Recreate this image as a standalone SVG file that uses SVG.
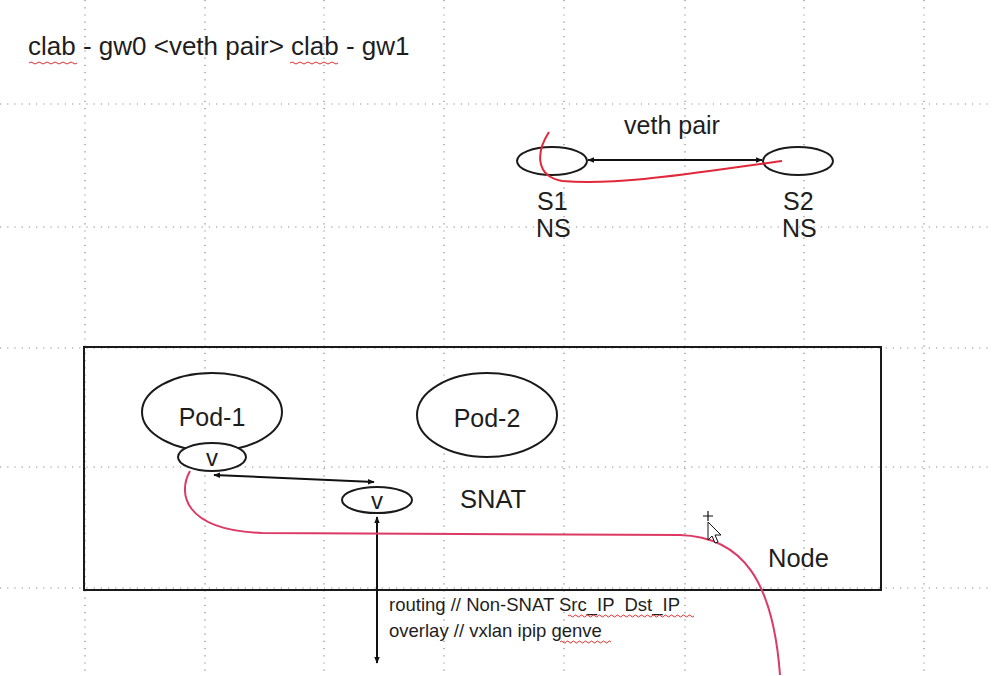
<svg xmlns="http://www.w3.org/2000/svg" width="992" height="676" viewBox="0 0 992 676">
<defs>
<style>
.grid{stroke:#8a8a8a;stroke-width:1.2;stroke-dasharray:1.2 6;fill:none}
.shape{fill:#fff;stroke:#1a1a1a;stroke-width:2}
.conn{stroke:#111;stroke-width:2;fill:none}
.red{stroke:#e0283a;stroke-width:2;fill:none}
.pink{stroke:#dc3a64;stroke-width:2;fill:none}
.t{font-family:"Liberation Sans",Arial,sans-serif;fill:#1e1e1e}
.wave{stroke:#e03030;stroke-width:1;fill:none}
</style>
<marker id="ah" viewBox="0 0 10 10" refX="9" refY="5" markerWidth="7" markerHeight="7" orient="auto-start-reverse" markerUnits="userSpaceOnUse">
<path d="M0,1 L10,5 L0,9 z" fill="#111"/>
</marker>
</defs>
<rect width="992" height="676" fill="#fff"/>
<g id="grid">
<line class="grid" x1="0" y1="104" x2="992" y2="104"/>
<line class="grid" x1="0" y1="227" x2="992" y2="227"/>
<line class="grid" x1="0" y1="348" x2="992" y2="348"/>
<line class="grid" x1="0" y1="467" x2="992" y2="467"/>
<line class="grid" x1="0" y1="588" x2="992" y2="588"/>
<line class="grid" x1="85" y1="0" x2="85" y2="676"/>
<line class="grid" x1="205" y1="0" x2="205" y2="676"/>
<line class="grid" x1="324" y1="0" x2="324" y2="676"/>
<line class="grid" x1="444" y1="0" x2="444" y2="676"/>
<line class="grid" x1="564" y1="0" x2="564" y2="676"/>
<line class="grid" x1="685" y1="0" x2="685" y2="676"/>
<line class="grid" x1="804" y1="0" x2="804" y2="676"/>
<line class="grid" x1="924" y1="0" x2="924" y2="676"/>
</g>
<g id="title">
<text class="t" x="28" y="55" font-size="26">clab - gw0 &lt;veth pair&gt; clab - gw1</text>
<path class="wave" d="M29,63 q2,-2 4,0 t4,0 t4,0 t4,0 t4,0 t4,0 t4,0 t4,0 t4,0 t4,0 t4,0 t4,0"/>
<path class="wave" d="M290,63 q2,-2 4,0 t4,0 t4,0 t4,0 t4,0 t4,0 t4,0 t4,0 t4,0 t4,0 t4,0 t4,0"/>
</g>
<g id="node-box">
<rect x="84" y="347" width="797" height="243" fill="none" stroke="#1a1a1a" stroke-width="2"/>
<text class="t" x="768" y="567" font-size="25.5">Node</text>
</g>
<g id="s1">
<ellipse class="shape" cx="552" cy="161" rx="35" ry="14"/>
<text class="t" x="537" y="210" font-size="25">S1</text>
<text class="t" x="536" y="237" font-size="25">NS</text>
</g>
<g id="s2">
<ellipse class="shape" cx="798" cy="161" rx="35" ry="14"/>
<text class="t" x="783" y="210" font-size="25">S2</text>
<text class="t" x="782" y="237" font-size="25">NS</text>
</g>
<g id="pod1">
<ellipse class="shape" cx="212" cy="412" rx="70" ry="39"/>
<text class="t" x="212" y="426" font-size="25" text-anchor="middle">Pod-1</text>
</g>
<g id="pod2">
<ellipse class="shape" cx="487" cy="415" rx="70" ry="42"/>
<text class="t" x="487" y="427" font-size="25" text-anchor="middle">Pod-2</text>
</g>
<g id="v1">
<ellipse class="shape" cx="212" cy="457" rx="34" ry="14"/>
<text class="t" x="212" y="466" font-size="24" text-anchor="middle">v</text>
</g>
<g id="v2">
<ellipse class="shape" cx="377" cy="500" rx="35" ry="13"/>
<text class="t" x="377" y="509" font-size="24" text-anchor="middle">v</text>
</g>
<g id="labels">
<text class="t" x="672" y="134" font-size="25" text-anchor="middle">veth pair</text>
<text class="t" x="460" y="508" font-size="25.5">SNAT</text>
<text class="t" x="389" y="611" font-size="18.5" xml:space="preserve">routing // Non-SNAT Src_IP  Dst_IP</text>
<text class="t" x="389" y="637" font-size="18.5">overlay // vxlan ipip genve</text>
<path class="wave" d="M568,616 q1.5,-2 3,0 t3,0 t3,0 t3,0 t3,0 t3,0 t3,0 t3,0 t3,0 t3,0 t3,0 t3,0 t3,0 t3,0 t3,0 t3,0 t3,0 t3,0 t3,0 t3,0 t3,0 t3,0 t3,0 t3,0 t3,0 t3,0 t3,0 t3,0 t3,0 t3,0 t3,0 t3,0 t3,0 t3,0 t3,0 t3,0 t3,0 t3,0 t3,0 t3,0 t3,0 t3,0"/>
<path class="wave" d="M560,642 q1.5,-2 3,0 t3,0 t3,0 t3,0 t3,0 t3,0 t3,0 t3,0 t3,0 t3,0 t3,0 t3,0 t3,0 t3,0 t3,0 t3,0 t3,0"/>
</g>
<g id="connectors">
<line class="conn" x1="588" y1="160" x2="762" y2="160" marker-start="url(#ah)" marker-end="url(#ah)"/>
<line class="conn" x1="214" y1="475" x2="374" y2="482" marker-start="url(#ah)" marker-end="url(#ah)"/>
<line class="conn" x1="377" y1="517" x2="377" y2="663" marker-start="url(#ah)" marker-end="url(#ah)"/>
<path class="red" d="M549,132 C536,152 535,176 562,181 C620,186 700,172 782,161"/>
<path class="pink" d="M190,471 C178,492 182,530 262,533 L680,535 C742,537 773,580 780,675"/>
</g>
<g id="cursor">
<path d="M708,522 L708,540 L712,536 L715,543 L718,542 L715,535 L721,535 Z" fill="#fff" stroke="#111" stroke-width="1"/>
<path d="M703,516 h10 M708,511 v10" stroke="#111" stroke-width="1.2"/>
</g>
</svg>
